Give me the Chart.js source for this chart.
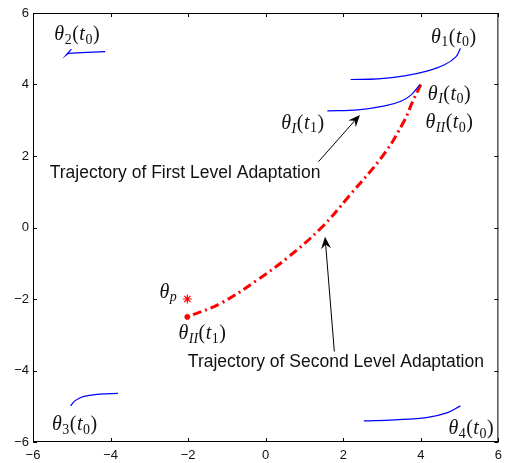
<!DOCTYPE html>
<html><head><meta charset="utf-8">
<script src="https://cdn.jsdelivr.net/npm/chart.js@4/dist/chart.umd.min.js"></script>
<style>html,body{margin:0;padding:0;background:#fff;}canvas{display:block;}</style>
</head><body>
<canvas id="c" width="508" height="463"></canvas>
<script>
// ---- data ----
const theta1X = [2.19, 2.90, 3.58, 4.18, 4.61, 4.91, 5.02];
const theta1Y = [4.14, 4.16, 4.24, 4.38, 4.55, 4.78, 5.01];
const thetaIX = [1.59, 2.38, 3.07, 3.50, 3.75, 3.97];
const thetaIY = [3.26, 3.29, 3.40, 3.54, 3.71, 3.99];
const theta2X = [-4.14, -4.60, -5.00, -5.09, -5.14, -5.01];
const theta2Y = [4.92, 4.90, 4.88, 4.87, 4.83, 4.99];
const theta3X = [-5.03, -4.92, -4.71, -4.28, -3.81];
const theta3Y = [-4.99, -4.85, -4.73, -4.66, -4.64];
const theta4X = [2.53, 3.33, 4.18, 4.69, 5.02];
const theta4Y = [-5.41, -5.38, -5.31, -5.18, -4.99];
const trajX = [4.00, 3.78, 3.58, 3.07, 2.15, 1.44, 0.59, -0.22, -1.16, -2.02];
const trajY = [4.00, 3.50, 3.00, 2.08, 0.88, 0.00, -0.82, -1.47, -2.12, -2.50];
const thetaPX = [-2.02];
const thetaPY = [-2.00];
const xTicks = [-6, -4, -2, 0, 2, 4, 6];
const yTicks = [-6, -4, -2, 0, 2, 4, 6];

const pts = (xs, ys) => xs.map((x, i) => ({x, y: ys[i]}));

// annotation texts (math labels) anchored in data coordinates
const mathLabels = [
  {at: [-4.86, 5.38], segs: [['θ','i'],['2','s'],['(',''],['t','i'],['0','s'],[')','']]},
  {at: [4.85, 5.31],  segs: [['θ','i'],['1','s'],['(',''],['t','i'],['0','s'],[')','']]},
  {at: [4.74, 3.72],  segs: [['θ','i'],['I','si'],['(',''],['t','i'],['0','s'],[')','']]},
  {at: [4.74, 2.92],  segs: [['θ','i'],['II','si'],['(',''],['t','i'],['0','s'],[')','']]},
  {at: [0.96, 2.90],  segs: [['θ','i'],['I','si'],['(',''],['t','i'],['1','s'],[')','']]},
  {at: [-2.51, -1.82],segs: [['θ','i'],['p','si']]},
  {at: [-1.63, -2.98],segs: [['θ','i'],['II','si'],['(',''],['t','i'],['1','s'],[')','']]},
  {at: [-4.92, -5.52],segs: [['θ','i'],['3','s'],['(',''],['t','i'],['0','s'],[')','']]},
  {at: [5.30, -5.64], segs: [['θ','i'],['4','s'],['(',''],['t','i'],['0','s'],[')','']]}
];
const textLabels = [
  {at: [-2.08, 1.52], text: 'Trajectory of First Level Adaptation'},
  {at: [1.81, -3.76], text: 'Trajectory of Second Level Adaptation'}
];
const arrows = [
  {from: [1.36, 1.84], to: [2.43, 3.15]},
  {from: [1.77, -3.47], to: [1.53, -0.26]}
];

const MF = '"Liberation Serif", "Times New Roman", serif';
function drawMath(ctx, segs, cx, cy) {
  const big = 20, small = 14, gap = 0.5;
  const fontFor = s => {
    const sub = s[1].includes('s');
    const it = s[1].includes('i');
    return (it ? 'italic ' : '') + (sub ? small : big) + 'px ' + MF;
  };
  let w = 0;
  segs.forEach(s => { ctx.font = fontFor(s); w += ctx.measureText(s[0]).width + gap; });
  let x = cx - w / 2;
  ctx.textBaseline = 'middle';
  ctx.textAlign = 'left';
  ctx.fillStyle = '#111';
  segs.forEach(s => {
    ctx.font = fontFor(s);
    const sub = s[1].includes('s');
    ctx.fillText(s[0], x, cy + (sub ? 5 : 0));
    x += ctx.measureText(s[0]).width + gap;
  });
}

function drawArrow(ctx, x1, y1, x2, y2) {
  const dx = x2 - x1, dy = y2 - y1, L = Math.hypot(dx, dy);
  const ux = dx / L, uy = dy / L, nx = -uy, ny = ux;
  const hl = 12, hw = 5;
  ctx.strokeStyle = '#000'; ctx.fillStyle = '#000'; ctx.lineWidth = 1;
  ctx.beginPath(); ctx.moveTo(x1, y1); ctx.lineTo(x2 - ux * hl * 0.6, y2 - uy * hl * 0.6); ctx.stroke();
  ctx.beginPath();
  ctx.moveTo(x2, y2);
  ctx.lineTo(x2 - ux * hl + nx * hw, y2 - uy * hl + ny * hw);
  ctx.lineTo(x2 - ux * hl * 0.65, y2 - uy * hl * 0.65);
  ctx.lineTo(x2 - ux * hl - nx * hw, y2 - uy * hl - ny * hw);
  ctx.closePath(); ctx.fill();
}

const decor = {
  id: 'decor',
  afterDraw(chart) {
    const {ctx, chartArea: a, scales: {x, y}} = chart;
    ctx.save();
    ctx.strokeStyle = '#000'; ctx.lineWidth = 1;
    ctx.strokeRect(a.left + 0.5, a.top + 0.5, a.right - a.left - 1, a.bottom - a.top - 1);
    const tl = 4;
    ctx.beginPath();
    xTicks.forEach(v => {
      const px = Math.round(x.getPixelForValue(v)) + 0.5;
      ctx.moveTo(px, a.bottom); ctx.lineTo(px, a.bottom - tl);
      ctx.moveTo(px, a.top); ctx.lineTo(px, a.top + tl);
    });
    yTicks.forEach(v => {
      const py = Math.round(y.getPixelForValue(v)) + 0.5;
      ctx.moveTo(a.left, py); ctx.lineTo(a.left + tl, py);
      ctx.moveTo(a.right, py); ctx.lineTo(a.right - tl, py);
    });
    ctx.stroke();
    arrows.forEach(r => drawArrow(ctx,
      x.getPixelForValue(r.from[0]), y.getPixelForValue(r.from[1]),
      x.getPixelForValue(r.to[0]), y.getPixelForValue(r.to[1])));
    ctx.font = '17.5px "Liberation Sans", Arial, sans-serif';
    ctx.fillStyle = '#111'; ctx.textAlign = 'center'; ctx.textBaseline = 'middle';
    textLabels.forEach(t => ctx.fillText(t.text, x.getPixelForValue(t.at[0]), y.getPixelForValue(t.at[1])));
    mathLabels.forEach(m => drawMath(ctx, m.segs, x.getPixelForValue(m.at[0]), y.getPixelForValue(m.at[1])));
    ctx.restore();
  }
};

const blue = (d, tension) => ({data: d, showLine: true, borderColor: '#0000ff', borderWidth: 1.2,
  pointRadius: 0, fill: false, tension: tension});

const fmt = v => (v < 0 ? '\u2212' + Math.abs(v) : String(v));

new Chart(document.getElementById('c'), {
  type: 'scatter',
  data: {
    datasets: [
      blue(pts(theta1X, theta1Y), 0.4),
      blue(pts(thetaIX, thetaIY), 0.4),
      blue(pts(theta2X, theta2Y), 0),
      blue(pts(theta3X, theta3Y), 0.4),
      blue(pts(theta4X, theta4Y), 0.4),
      {data: pts(trajX, trajY), showLine: true, borderColor: '#ff0000', borderWidth: 3,
        borderDash: [9, 4, 2, 4], pointRadius: 0, tension: 0.4, fill: false},
      {data: pts([trajX[trajX.length - 1]], [trajY[trajY.length - 1]]), pointRadius: 2.5,
        pointBackgroundColor: '#ff0000', pointBorderColor: '#ff0000', showLine: false},
      {data: pts(thetaPX, thetaPY), pointStyle: 'star', pointRadius: 4.5, pointBorderWidth: 1.2,
        pointBorderColor: '#ff0000', pointBackgroundColor: '#ff0000', showLine: false}
    ]
  },
  options: {
    responsive: false,
    animation: false,
    events: [],
    layout: {padding: {top: 13, right: 7, left: 0, bottom: 0}},
    plugins: {legend: {display: false}, tooltip: {enabled: false}},
    scales: {
      x: {
        type: 'linear', min: -6, max: 6,
        afterBuildTicks: s => { s.ticks = xTicks.map(v => ({value: v})); },
        afterFit: s => { s.height = 21; },
        grid: {display: false, drawTicks: false},
        border: {display: false},
        ticks: {padding: 6, color: '#111', font: {size: 13, family: '"Liberation Sans", Arial, sans-serif'},
          callback: v => fmt(v), maxRotation: 0, autoSkip: false}
      },
      y: {
        type: 'linear', min: -6, max: 6,
        afterBuildTicks: s => { s.ticks = yTicks.map(v => ({value: v})); },
        afterFit: s => { s.width = 33; },
        grid: {display: false, drawTicks: false},
        border: {display: false},
        ticks: {padding: 4, color: '#111', font: {size: 13, family: '"Liberation Sans", Arial, sans-serif'},
          callback: v => fmt(v), autoSkip: false}
      }
    }
  },
  plugins: [decor]
});
</script>
</body></html>
